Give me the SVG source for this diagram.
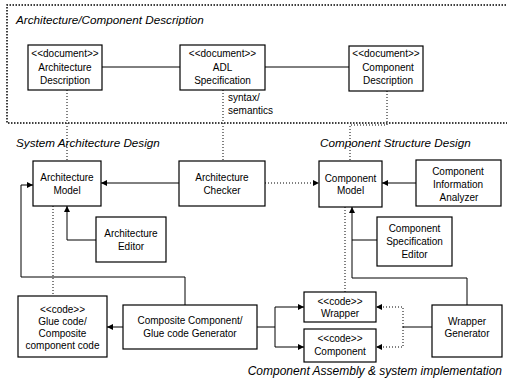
<svg xmlns="http://www.w3.org/2000/svg" width="507" height="380" viewBox="0 0 507 380">
<style>
.box{fill:#fff;stroke:#000;stroke-width:1.2}
.t{font-family:"Liberation Sans",Arial,sans-serif;font-size:10px;fill:#000;text-anchor:middle}
.ti{font-family:"Liberation Sans",Arial,sans-serif;font-size:11.7px;font-style:italic;fill:#000}
.l{fill:none;stroke:#000;stroke-width:1}
.d{fill:none;stroke:#000;stroke-width:1;stroke-dasharray:1 2}
.frame{fill:none;stroke:#000;stroke-width:1.5;stroke-dasharray:1.5 1.5}
</style>
<defs>
<marker id="ah" viewBox="0 0 10 10" refX="10" refY="5" markerWidth="6" markerHeight="6" orient="auto" markerUnits="userSpaceOnUse">
<path d="M0,0 L10,5 L0,10 z" fill="#000"/>
</marker>
</defs>
<rect x="-10" width="527" height="390" fill="#fff"/>
<path class="frame" d="M515,5 H7 V123 H515"/>
<text class="ti" x="16" y="24">Architecture/Component Description</text>
<text class="ti" x="16" y="147">System Architecture Design</text>
<text class="ti" x="320" y="147">Component Structure Design</text>
<text class="ti" x="502" y="375" style="text-anchor:end;font-size:12px">Component Assembly &amp; system implementation</text>
<text class="t" x="228" y="101" style="text-anchor:start">syntax/</text>
<text class="t" x="228" y="114" style="text-anchor:start">semantics</text>
<g id="connectors">
<path class="l" d="M102,67 H180"/>
<path class="l" d="M265,67 H349"/>
<path class="d" d="M67,90 V161"/>
<path class="d" d="M223,90 V161"/>
<path class="d" d="M387,91 V125 H350 V161"/>
<path class="l" d="M179,183 H101" marker-end="url(#ah)"/>
<path class="d" d="M265,183 H319" marker-end="url(#ah)"/>
<path class="l" d="M416,183 H382" marker-end="url(#ah)"/>
<path class="l" d="M96,240 H67 V206" marker-end="url(#ah)"/>
<path class="d" d="M53,206 V296"/>
<path class="l" d="M185,305 V277 H21 V185 H33" marker-end="url(#ah)"/>
<path class="l" d="M377,240 H352"/>
<path class="l" d="M467,305 V278 H352 V207" marker-end="url(#ah)"/>
<path class="d" d="M345,207 V292"/>
<path class="l" d="M123,327 H107" marker-end="url(#ah)"/>
<path class="l" d="M257,327 H275"/>
<path class="l" d="M275,327 V307 H304" marker-end="url(#ah)"/>
<path class="l" d="M275,327 V347 H304" marker-end="url(#ah)"/>
<path class="l" d="M432,327 H403"/>
<path class="d" d="M403,327 V307 H376" marker-end="url(#ah)"/>
<path class="d" d="M403,327 V347 H376" marker-end="url(#ah)"/>
</g>
<g id="arch-desc">
<rect class="box" x="28" y="45" width="74" height="45"/>
<text class="t" x="65" y="57">&lt;&lt;document&gt;&gt;</text>
<text class="t" x="65" y="71">Architecture</text>
<text class="t" x="65" y="84">Description</text>
</g>
<g id="adl-spec">
<rect class="box" x="180" y="45" width="85" height="45"/>
<text class="t" x="222.500" y="57">&lt;&lt;document&gt;&gt;</text>
<text class="t" x="222.500" y="71">ADL</text>
<text class="t" x="222.500" y="84">Specification</text>
</g>
<g id="comp-desc">
<rect class="box" x="349" y="46" width="74" height="45"/>
<text class="t" x="386" y="57">&lt;&lt;document&gt;&gt;</text>
<text class="t" x="388" y="71">Component</text>
<text class="t" x="388" y="84">Description</text>
</g>
<g id="arch-model">
<rect class="box" x="33" y="161" width="68" height="45"/>
<text class="t" x="67" y="181">Architecture</text>
<text class="t" x="67" y="194">Model</text>
</g>
<g id="arch-checker">
<rect class="box" x="179" y="161" width="86" height="45"/>
<text class="t" x="222" y="181">Architecture</text>
<text class="t" x="222" y="194">Checker</text>
</g>
<g id="comp-model">
<rect class="box" x="319" y="161" width="63" height="46"/>
<text class="t" x="350.500" y="182">Component</text>
<text class="t" x="350.500" y="194">Model</text>
</g>
<g id="comp-info">
<rect class="box" x="416" y="160" width="85" height="46"/>
<text class="t" x="458" y="175">Component</text>
<text class="t" x="458" y="188">Information</text>
<text class="t" x="459" y="201">Analyzer</text>
</g>
<g id="arch-editor">
<rect class="box" x="96" y="217" width="70" height="45"/>
<text class="t" x="131" y="237">Architecture</text>
<text class="t" x="131" y="250">Editor</text>
</g>
<g id="comp-spec-editor">
<rect class="box" x="377" y="217" width="75" height="49"/>
<text class="t" x="414.500" y="232">Component</text>
<text class="t" x="414.500" y="245">Specification</text>
<text class="t" x="414.500" y="258">Editor</text>
</g>
<g id="glue-code">
<rect class="box" x="18" y="296" width="89" height="61"/>
<text class="t" x="62.500" y="313">&lt;&lt;code&gt;&gt;</text>
<text class="t" x="62.500" y="325">Glue code/</text>
<text class="t" x="62.500" y="337">Composite</text>
<text class="t" x="62.500" y="349">component code</text>
</g>
<g id="composite-gen">
<rect class="box" x="123" y="305" width="134" height="44"/>
<text class="t" x="190" y="324">Composite Component/</text>
<text class="t" x="190" y="337">Glue code Generator</text>
</g>
<g id="wrapper">
<rect class="box" x="304" y="292" width="72" height="30"/>
<text class="t" x="340" y="305">&lt;&lt;code&gt;&gt;</text>
<text class="t" x="340" y="317">Wrapper</text>
</g>
<g id="component">
<rect class="box" x="304" y="329" width="72" height="33"/>
<text class="t" x="340" y="342">&lt;&lt;code&gt;&gt;</text>
<text class="t" x="340" y="355">Component</text>
</g>
<g id="wrapper-gen">
<rect class="box" x="432" y="305" width="70" height="52"/>
<text class="t" x="467" y="325">Wrapper</text>
<text class="t" x="467" y="337">Generator</text>
</g>
</svg>
